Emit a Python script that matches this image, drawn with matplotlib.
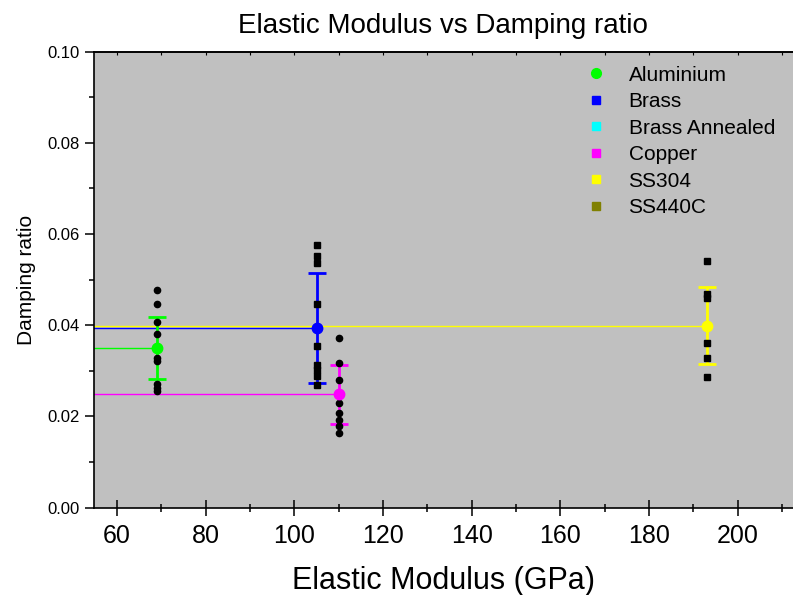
import numpy as np
import matplotlib
matplotlib.use('Agg')
import matplotlib.pyplot as plt
from matplotlib.ticker import MultipleLocator

plt.rcParams['font.family'] = ['Liberation Sans', 'DejaVu Sans']

# legend entries (Brass Annealed and SS440C have no points on the chart)
materials = ['Aluminium', 'Brass', 'Brass Annealed', 'Copper', 'SS304', 'SS440C']
colors = ['#00ff00', '#0000ff', '#00ffff', '#ff00ff', '#ffff00', '#808000']
legend_markers = ['o', 's', 's', 's', 's', 's']

# mean values per material with data
plot_names = ['Aluminium', 'Brass', 'Copper', 'SS304']
plot_colors = ['#00ff00', '#0000ff', '#ff00ff', '#ffff00']
modulus = [69, 105, 110, 193]
damping_mean = [0.0349, 0.0394, 0.0248, 0.0399]
damping_std = [0.0068, 0.0121, 0.0064, 0.0085]

# raw measurements (black points)
raw_al = [0.0477, 0.0446, 0.0406, 0.0380, 0.0329, 0.0322, 0.0272, 0.0263, 0.0256]
raw_brass = [0.0576, 0.0552, 0.0537, 0.0446, 0.0354, 0.0313, 0.0302, 0.0288, 0.0269]
raw_cu = [0.0372, 0.0317, 0.0280, 0.0230, 0.0208, 0.0192, 0.0178, 0.0164]
raw_ss = [0.0540, 0.0468, 0.0460, 0.0360, 0.0328, 0.0286]
raw_sets = [(69, raw_al, 'o'), (105, raw_brass, 's'), (110, raw_cu, 'o'), (193, raw_ss, 's')]

x_min, x_max = 54.7, 212.5

fig = plt.figure(figsize=(7.93, 5.95), dpi=100)
ax = fig.add_axes([0.118, 0.147, 0.882, 0.7664])
ax.set_facecolor('#c0c0c0')

# drop lines to the y axis
for xm, ym, c in zip(modulus, damping_mean, plot_colors):
    ax.plot([x_min, xm], [ym, ym], color=c, lw=1.0, zorder=1)

# error bars
for xm, ym, sd, c in zip(modulus, damping_mean, damping_std, plot_colors):
    ax.errorbar(xm, ym, yerr=sd, fmt='none', ecolor=c, elinewidth=2,
                capsize=6.5, capthick=2, zorder=2)

# raw data
for xr, vals, mk in raw_sets:
    ax.plot([xr] * len(vals), vals, ls='none', marker=mk, ms=4.5,
            color='black', zorder=3)

# means
for xm, ym, c in zip(modulus, damping_mean, plot_colors):
    ax.plot(xm, ym, ls='none', marker='o', ms=7.5, color=c, zorder=4)

# legend handles
handles = []
for name, c, mk in zip(materials, colors, legend_markers):
    h, = ax.plot([], [], ls='none', marker=mk, ms=7 if mk == 'o' else 6,
                 color=c, label=name)
    handles.append(h)
ax.legend(handles=handles, loc='upper left', bbox_to_anchor=(0.677, 1.01),
          frameon=False, fontsize=15, handletextpad=1.05, labelspacing=0.36,
          handlelength=1.0)

ax.set_xlim(x_min, x_max)
ax.set_ylim(0, 0.10)
ax.xaxis.set_major_locator(MultipleLocator(20))
ax.xaxis.set_minor_locator(MultipleLocator(10))
ax.yaxis.set_major_locator(MultipleLocator(0.02))
ax.yaxis.set_minor_locator(MultipleLocator(0.01))
ax.yaxis.set_major_formatter(plt.FuncFormatter(lambda v, p: f'{v:.2f}'))

ax.tick_params(axis='x', which='major', direction='inout', length=11.5,
               width=1.1, labelsize=18, pad=6)
ax.tick_params(axis='x', which='minor', direction='inout', length=6, width=1.1)
ax.tick_params(axis='y', which='major', direction='out', length=6.5, width=1.1,
               labelsize=12)
ax.tick_params(axis='y', which='minor', direction='out', length=3.5, width=1.1)

# small inward ticks on the top spine
top = ax.secondary_xaxis('top')
top.xaxis.set_major_locator(MultipleLocator(10))
top.tick_params(direction='in', length=2, width=0.8, labeltop=False)
top.spines['top'].set_linewidth(1.2)

for side in ['left', 'bottom', 'top']:
    ax.spines[side].set_linewidth(1.2)
ax.spines['right'].set_visible(False)

ax.set_title('Elastic Modulus vs Damping ratio', fontsize=20, pad=13)
ax.set_xlabel('Elastic Modulus (GPa)', fontsize=22, labelpad=13)
ax.set_ylabel('Damping ratio', fontsize=15, labelpad=8)

plt.savefig('out.png', dpi=100)
